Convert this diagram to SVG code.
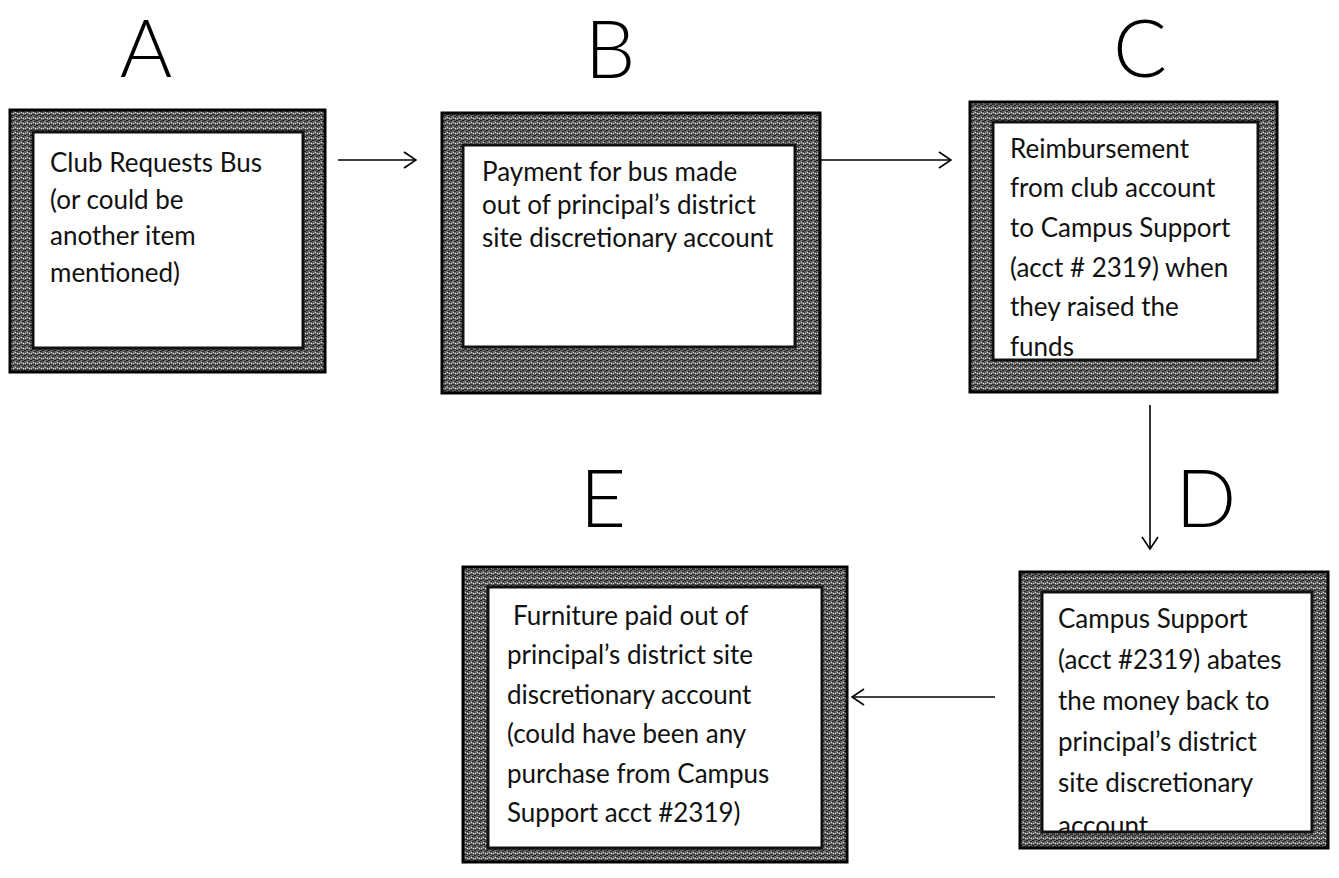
<svg xmlns="http://www.w3.org/2000/svg" width="1339" height="878" viewBox="0 0 1339 878">
  <style>
    .frame { fill: url(#tex); stroke: #000; stroke-width: 3; }
    .inner { fill: #fff; stroke: #111; stroke-width: 3; }
    .txt { font-family: Lato, "Open Sans", "Liberation Sans", sans-serif; font-size: 26px; fill: #111; }
    .head { font-family: Lato, "Open Sans", "Liberation Sans", sans-serif; font-size: 80px; font-weight: 300; fill: #000; text-anchor: middle; }
    .conn { stroke: #000; stroke-width: 1.6; fill: none; }
  </style>
  <defs>
    <pattern id="tex" width="6" height="5" patternUnits="userSpaceOnUse">
      <rect width="6" height="5" fill="#6a6a6a"/>
      <rect x="0" y="0" width="2" height="1" fill="#151515"/>
      <rect x="3" y="2" width="1" height="1" fill="#d8d8d8"/>
      <rect x="4" y="1" width="2" height="1" fill="#252525"/>
      <rect x="1" y="3" width="1" height="1" fill="#cfcfcf"/>
      <rect x="2" y="4" width="3" height="1" fill="#2e2e2e"/>
      <rect x="5" y="3" width="1" height="1" fill="#eee"/>
      <rect x="0" y="2" width="1" height="1" fill="#3a3a3a"/>
    </pattern>
    <marker id="open" viewBox="0 0 14 18" refX="13" refY="9" markerWidth="14" markerHeight="18" markerUnits="userSpaceOnUse" orient="auto">
      <path d="M1,1 L13,9 L1,17" fill="none" stroke="#000" stroke-width="1.6"/>
    </marker>
    <clipPath id="clipC"><rect x="993" y="122" width="265" height="238"/></clipPath>
    <clipPath id="clipD"><rect x="1042" y="592" width="270" height="240"/></clipPath>
  </defs>

  <rect width="1339" height="878" fill="#fff"/>

  <g id="node-A">
    <text class="head" x="146" y="77">A</text>
    <rect class="frame" x="10" y="110" width="315" height="262"/>
    <rect class="inner" x="33" y="132" width="270" height="216"/>
    <text class="txt">
      <tspan x="50" y="172">Club Requests Bus</tspan>
      <tspan x="50" y="209">(or could be</tspan>
      <tspan x="50" y="245">another item</tspan>
      <tspan x="50" y="282">mentioned)</tspan>
    </text>
  </g>

  <g id="node-B">
    <text class="head" x="610" y="78">B</text>
    <rect class="frame" x="442" y="113" width="378" height="280"/>
    <rect class="inner" x="463" y="145" width="332" height="202"/>
    <text class="txt">
      <tspan x="482" y="181">Payment for bus made</tspan>
      <tspan x="482" y="214">out of principal’s district</tspan>
      <tspan x="482" y="247">site discretionary account</tspan>
    </text>
  </g>

  <g id="node-C">
    <text class="head" x="1140" y="77">C</text>
    <rect class="frame" x="970" y="102" width="307" height="290"/>
    <rect class="inner" x="993" y="122" width="265" height="238"/>
    <text class="txt" clip-path="url(#clipC)">
      <tspan x="1010" y="158">Reimbursement</tspan>
      <tspan x="1010" y="197">from club account</tspan>
      <tspan x="1010" y="237">to Campus Support</tspan>
      <tspan x="1010" y="277">(acct # 2319) when</tspan>
      <tspan x="1010" y="316">they raised the</tspan>
      <tspan x="1010" y="356">funds</tspan>
    </text>
  </g>

  <g id="node-D">
    <text class="head" x="1206" y="527">D</text>
    <rect class="frame" x="1020" y="572" width="308" height="276"/>
    <rect class="inner" x="1042" y="592" width="270" height="240"/>
    <text class="txt" clip-path="url(#clipD)">
      <tspan x="1058" y="628">Campus Support</tspan>
      <tspan x="1058" y="669">(acct #2319) abates</tspan>
      <tspan x="1058" y="710">the money back to</tspan>
      <tspan x="1058" y="751">principal’s district</tspan>
      <tspan x="1058" y="792">site discretionary</tspan>
      <tspan x="1058" y="835">account</tspan>
    </text>
  </g>

  <g id="node-E">
    <text class="head" x="603" y="527">E</text>
    <rect class="frame" x="463" y="567" width="384" height="295"/>
    <rect class="inner" x="488" y="587" width="334" height="261"/>
    <text class="txt">
      <tspan x="513" y="625">Furniture paid out of</tspan>
      <tspan x="507" y="664">principal’s district site</tspan>
      <tspan x="507" y="704">discretionary account</tspan>
      <tspan x="507" y="743">(could have been any</tspan>
      <tspan x="507" y="783">purchase from Campus</tspan>
      <tspan x="507" y="822">Support acct #2319)</tspan>
    </text>
  </g>

  <g id="connectors">
    <line class="conn" x1="338" y1="160" x2="416" y2="160" marker-end="url(#open)"/>
    <line class="conn" x1="820" y1="160" x2="951" y2="160" marker-end="url(#open)"/>
    <line class="conn" x1="1150" y1="405" x2="1150" y2="549" marker-end="url(#open)"/>
    <line class="conn" x1="995" y1="697" x2="852" y2="697" marker-end="url(#open)"/>
  </g>
</svg>
